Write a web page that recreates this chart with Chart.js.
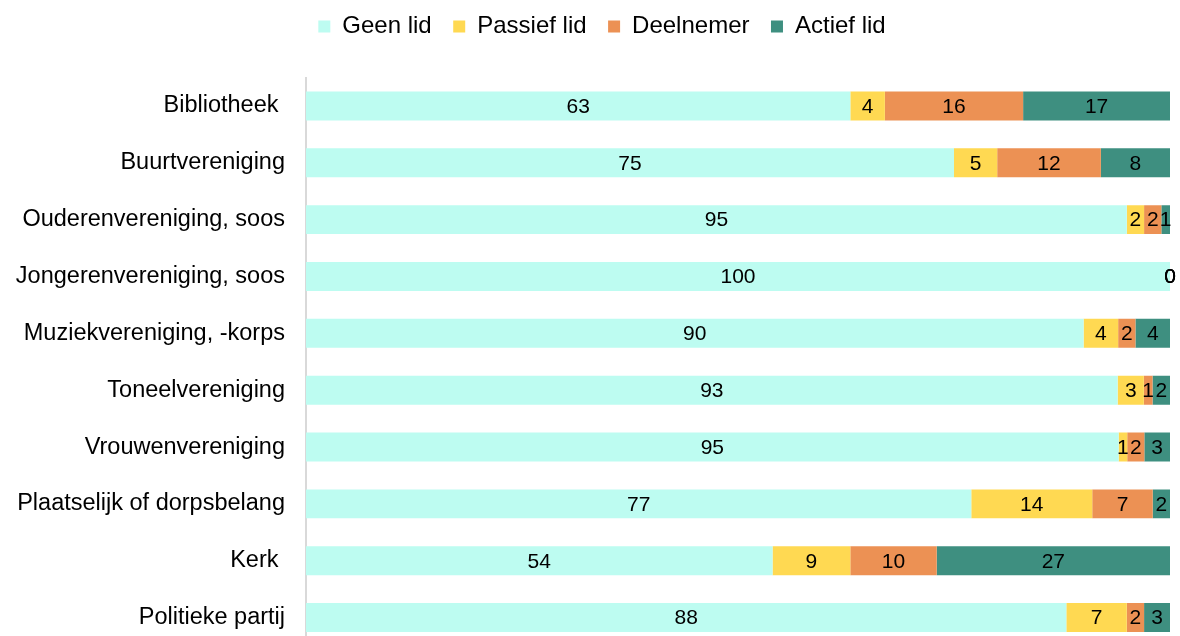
<!DOCTYPE html>
<html>
<head>
<meta charset="utf-8">
<script src="https://cdn.jsdelivr.net/npm/chart.js@4"></script>
<style>
  html, body { margin: 0; padding: 0; background: #fff; overflow: hidden; }
  #wrap { width: 1180px; height: 646px; }
</style>
</head>
<body>
<div id="wrap"><canvas id="myChart" width="1180" height="646"></canvas></div>
<script>
const categories = [
  'Bibliotheek ',
  'Buurtvereniging',
  'Ouderenvereniging, soos',
  'Jongerenvereniging, soos',
  'Muziekvereniging, -korps',
  'Toneelvereniging',
  'Vrouwenvereniging',
  'Plaatselijk of dorpsbelang',
  'Kerk ',
  'Politieke partij'
];

const geenLid    = [63, 75, 95, 100, 90, 93, 95, 77, 54, 88];
const passiefLid = [4, 5, 2, 0, 4, 3, 1, 14, 9, 7];
const deelnemer  = [16, 12, 2, 0, 2, 1, 2, 7, 10, 2];
const actiefLid  = [17, 8, 1, 0, 4, 2, 3, 2, 27, 3];

const seriesNames = ['Geen lid', 'Passief lid', 'Deelnemer', 'Actief lid'];
const colors = ['#BDFCF1', '#FFD952', '#EC9154', '#3E8F80'];

const FONT = '"Liberation Sans", Arial, sans-serif';

// 100% stacked: each row is shown as its share of the row total
const rows = [geenLid, passiefLid, deelnemer, actiefLid];
const totals = categories.map((c, i) => rows.reduce((s, r) => s + r[i], 0));
const share = (arr) => arr.map((v, i) => v / totals[i] * 100);

// value in the middle of each segment
const valueLabels = {
  id: 'valueLabels',
  afterDatasetsDraw(chart) {
    const ctx = chart.ctx;
    ctx.save();
    ctx.font = '21px ' + FONT;
    ctx.fillStyle = '#000';
    ctx.textAlign = 'center';
    ctx.textBaseline = 'middle';
    chart.data.datasets.forEach((ds, di) => {
      const meta = chart.getDatasetMeta(di);
      meta.data.forEach((bar, i) => {
        const x = (bar.x + bar.base) / 2;
        ctx.fillText(String(rows[di][i]), x, bar.y + 1);
      });
    });
    ctx.restore();
  }
};

// extra room under the legend, and nudge it into place
const legendSpace = {
  id: 'legendSpace',
  beforeInit(chart) {
    const fit = chart.legend.fit;
    chart.legend.fit = function () {
      fit.bind(chart.legend)();
      this.height += 22;
    };
  },
  afterLayout(chart) {
    const lg = chart.legend;
    lg.top -= 7; lg.bottom -= 7;
    lg.left += 17; lg.right += 17;
  }
};

const ctx = document.getElementById('myChart').getContext('2d');
const chart = new Chart(ctx, {
  type: 'bar',
  data: {
    labels: categories,
    datasets: rows.map((r, i) => ({
      label: seriesNames[i],
      data: share(r),
      backgroundColor: colors[i],
      borderWidth: 0,
      barPercentage: 0.51,
      categoryPercentage: 1
    }))
  },
  options: {
    indexAxis: 'y',
    responsive: false,
    animation: false,
    layout: { padding: { top: 0, right: 10, bottom: 0, left: 0 } },
    plugins: {
      tooltip: { enabled: false },
      legend: {
        position: 'top',
        align: 'center',
        labels: {
          boxWidth: 12,
          boxHeight: 12,
          padding: 21.5,
          color: '#000',
          font: { family: FONT, size: 24 }
        }
      }
    },
    scales: {
      x: {
        stacked: true,
        display: false,
        min: 0,
        max: 100
      },
      y: {
        stacked: true,
        grid: { display: false, drawTicks: false },
        border: { display: true, color: '#d9d9d9', width: 2 },
        ticks: {
          padding: 21,
          color: '#000',
          font: { family: FONT, size: 23.5 }
        },
        afterFit: (s) => {
          s.width = 306;
          s.paddingTop = 0;
          s.paddingBottom = 0;
        }
      }
    }
  },
  plugins: [valueLabels, legendSpace]
});
</script>
</body>
</html>
